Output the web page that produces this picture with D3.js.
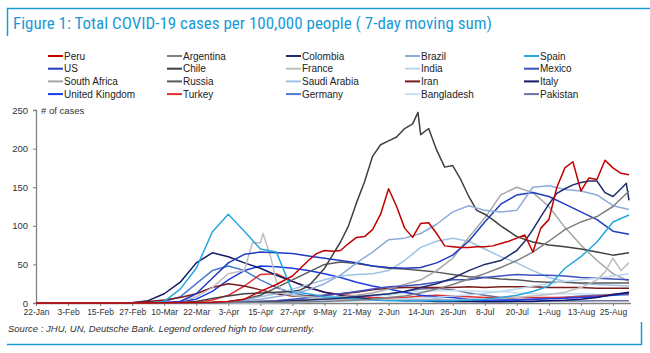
<!DOCTYPE html>
<html>
<head>
<meta charset="utf-8">
<script src="https://cdn.jsdelivr.net/npm/d3@7"></script>
<style>
  html, body { margin: 0; padding: 0; background: #fff; }
  svg { display: block; font-family: "Liberation Sans", Arial, sans-serif; }
</style>
</head>
<body>
<svg id="chart" width="650" height="353"></svg>
<script>
'use strict';

// ─── Data (7-day moving sum of cases per 100k) ───────────────────────────────
// shared 6-day grid
const dates = [
  '2020-01-22', '2020-02-03', '2020-02-15', '2020-02-27', '2020-03-04',
  '2020-03-10', '2020-03-16', '2020-03-22', '2020-03-28', '2020-04-03',
  '2020-04-09', '2020-04-15', '2020-04-21', '2020-04-27', '2020-05-03',
  '2020-05-09', '2020-05-15', '2020-05-21', '2020-05-27', '2020-06-02',
  '2020-06-08', '2020-06-14', '2020-06-20', '2020-06-26', '2020-07-02',
  '2020-07-08', '2020-07-14', '2020-07-20', '2020-07-26', '2020-08-01',
  '2020-08-07', '2020-08-13', '2020-08-19', '2020-08-25', '2020-08-31'
];

// finer dates for the jagged series
const peruDates = [
  '2020-01-22', '2020-02-27', '2020-03-22', '2020-03-28', '2020-04-03', '2020-04-09',
  '2020-04-15', '2020-04-21', '2020-04-27', '2020-04-30', '2020-05-03', '2020-05-06',
  '2020-05-09', '2020-05-12', '2020-05-15', '2020-05-18', '2020-05-21', '2020-05-24',
  '2020-05-27', '2020-05-30', '2020-06-02', '2020-06-05', '2020-06-08', '2020-06-11',
  '2020-06-14', '2020-06-17', '2020-06-20', '2020-06-23', '2020-06-26', '2020-06-29',
  '2020-07-02', '2020-07-05', '2020-07-08', '2020-07-11', '2020-07-14', '2020-07-17',
  '2020-07-20', '2020-07-23', '2020-07-26', '2020-07-29', '2020-08-01', '2020-08-04',
  '2020-08-07', '2020-08-10', '2020-08-13', '2020-08-16', '2020-08-19', '2020-08-22',
  '2020-08-25', '2020-08-28', '2020-08-31'
];
const peru = [0, 0, 0.5, 1, 2, 5,
  15, 24, 35, 45, 55, 64,
  68, 67, 68, 77, 85, 86,
  95, 115, 148, 125, 97, 85,
  103, 104, 90, 74, 73, 72,
  72, 73, 73, 74, 77, 80,
  84, 88, 66, 97, 108, 150,
  175, 183, 145, 162, 160, 185,
  175, 168, 166];

const chileDates = [
  '2020-01-22', '2020-03-16', '2020-03-22', '2020-03-28', '2020-04-03', '2020-04-09',
  '2020-04-15', '2020-04-21', '2020-04-27', '2020-04-30', '2020-05-03', '2020-05-06',
  '2020-05-09', '2020-05-12', '2020-05-15', '2020-05-18', '2020-05-21', '2020-05-24',
  '2020-05-27', '2020-05-30', '2020-06-02', '2020-06-05', '2020-06-08', '2020-06-11',
  '2020-06-13', '2020-06-14', '2020-06-17', '2020-06-20', '2020-06-23', '2020-06-26',
  '2020-06-29', '2020-07-02', '2020-07-05', '2020-07-08', '2020-07-11', '2020-07-14',
  '2020-07-20', '2020-07-26', '2020-08-01', '2020-08-07', '2020-08-13', '2020-08-19',
  '2020-08-25', '2020-08-31'
];
const chile = [0, 0.5, 2, 6, 9, 12,
  13, 14, 15, 17, 22, 33,
  45, 62, 79, 100, 130, 157,
  190, 205, 210, 215, 226, 232,
  247, 218, 226, 198, 176, 178,
  160, 138, 120, 115, 108, 100,
  86, 79, 75, 73, 70, 66,
  62, 65];

const colombiaDates = [
  '2020-01-22', '2020-03-28', '2020-04-03', '2020-04-09', '2020-04-15', '2020-04-21',
  '2020-04-27', '2020-05-03', '2020-05-09', '2020-05-15', '2020-05-21', '2020-05-27',
  '2020-06-02', '2020-06-08', '2020-06-14', '2020-06-20', '2020-06-26', '2020-07-02',
  '2020-07-08', '2020-07-14', '2020-07-20', '2020-07-23', '2020-07-26', '2020-07-29',
  '2020-08-01', '2020-08-04', '2020-08-07', '2020-08-10', '2020-08-13', '2020-08-16',
  '2020-08-19', '2020-08-22', '2020-08-25', '2020-08-28', '2020-08-30', '2020-08-31'
];
const colombia = [0, 0.2, 0.5, 1, 1.5, 2,
  3, 4, 5, 6, 8, 10,
  12, 15, 20, 25, 32, 42,
  50, 55, 68, 80, 95, 112,
  128, 142, 148, 153, 156, 158,
  158, 143, 138, 148, 155, 133];

const franceDates = [
  '2020-01-22', '2020-03-04', '2020-03-10', '2020-03-16', '2020-03-22', '2020-03-28',
  '2020-04-03', '2020-04-09', '2020-04-12', '2020-04-15', '2020-04-16', '2020-04-19',
  '2020-04-21', '2020-04-24', '2020-04-27', '2020-05-03', '2020-05-09', '2020-05-15',
  '2020-05-21', '2020-05-27', '2020-06-02', '2020-06-08', '2020-06-14', '2020-06-20',
  '2020-06-26', '2020-07-02', '2020-07-08', '2020-07-14', '2020-07-20', '2020-07-26',
  '2020-08-01', '2020-08-07', '2020-08-13', '2020-08-19', '2020-08-22', '2020-08-25',
  '2020-08-28', '2020-08-31'
];
const france = [0, 0, 0.5, 2, 8, 20,
  38, 42, 78, 78, 90, 58,
  27, 12, 10, 8, 6, 5,
  4, 4, 4, 4, 4, 4,
  4, 5, 5, 6, 7, 9,
  11, 14, 20, 30, 40, 58,
  42, 52];

const argentina   = [0,0,0,0,0, 0,0,0.1,0.3,0.5, 0.8,1,1,1.2,1.5, 2,3,4,5,7, 9,13,18,24,31, 38,46,55,66,80, 95,105,112,125,145];
const brazil      = [0,0,0,0,0, 0,0,0.2,0.6,1.5, 3,5,8,12,17, 25,36,52,66,82, 84,90,102,118,126, 120,118,120,150,152, 147,145,140,126,121];
const spain       = [0,0,0,0,0.1, 2,18,45,92,115, 93,70,66,15,12, 8,7,5,4,3, 3,3,3,3,4, 5,7,10,15,22, 45,60,79,105,114];
const us          = [0,0,0,0,0, 0.3,2,12,32,52, 63,66,65,64,61, 58,55,52,48,46, 45,46,52,62,80, 105,128,140,143,138, 128,118,108,93,89];
const india       = [0,0,0,0,0, 0,0,0,0,0.1, 0.1,0.2,0.4,0.7,1, 1.5,2,2.6,3.5,4.5, 5.5,6.5,7.5,9,10.5, 12.5,15,18,22,25, 28,30,32,35,38];
const mexico      = [0,0,0,0,0, 0,0,0,0.2,0.6, 1,2,3,5,7, 10,12,15,18,21, 22,24,27,30,30, 33,35,37,36,36, 35,33,32,31,30];
const southAfrica = [0,0,0,0,0, 0,0,0.3,1,1.5, 2,2.5,3,4,5, 6,8,10,13,18, 24,30,42,58,85, 110,140,150,143,125, 98,75,55,38,28];
const russia      = [0,0,0,0,0, 0,0,0.1,0.5,2, 5,10,20,30,40, 50,53,51,48,45, 44,42,40,37,34, 33,31,30,28,27, 27,26,26,26,26];
const saudi       = [0,0,0,0,0, 0,0,0.5,1,2, 4,8,12,18,24, 30,35,37,38,42, 55,72,80,84,80, 70,60,52,42,33, 28,25,24,23,22];
const iran        = [0,0,0,0.3,2, 4,7,12,20,25, 22,17,12,9,9, 10,12,14,17,19, 20,20,20,20,21, 20,21,21,21,20, 20,20,19,19,19];
const italy       = [0,0,0,0.3,3, 12,27,52,65,60, 52,45,36,28,20, 14,10,7,5,4, 3,3,2,2,2, 1.5,1.5,2,2,3, 3.5,5,7,11,14];
const uk          = [0,0,0,0,0, 0.5,2,5,15,30, 42,48,47,45,42, 38,33,27,22,18, 14,10,8,7,5, 4,4,4,5,5.5, 6,7,8,10,13];
const turkey      = [0,0,0,0,0, 0,0.2,1,4,10, 22,37,38,28,20, 14,11,9,7,6, 7,9,10,9,8, 7,7,7,7,7, 7,8,9,11,12];
const germany     = [0,0,0,0.1,0.5, 2,8,25,42,48, 42,30,20,13,9, 7,6,5,4,4, 4,4,5,4,3.5, 3.5,3.5,4,5,6, 7.5,9,10,10,11];
const bangladesh  = [0,0,0,0,0, 0,0,0,0,0, 0.2,0.5,1,2,3, 4,5.5,7,8.5,10, 13,15,16,16,16, 15,15,13,12,12, 12,12,11,11,10];
const pakistan    = [0,0,0,0,0, 0,0,0.2,0.5,1, 1.5,2,2.5,3,3.5, 4,5.5,7,9,11, 15,18,19,17,13, 10,7,5,4,3, 2.5,2.5,3,3,3];

// legend order (high to low currently), row by row
const countries = ['Peru', 'Argentina', 'Colombia', 'Brazil', 'Spain',
                   'US', 'Chile', 'France', 'India', 'Mexico',
                   'South Africa', 'Russia', 'Saudi Arabia', 'Iran', 'Italy',
                   'United Kingdom', 'Turkey', 'Germany', 'Bangladesh', 'Pakistan'];
const seriesValues = [peru, argentina, colombia, brazil, spain,
                      us, chile, france, india, mexico,
                      southAfrica, russia, saudi, iran, italy,
                      uk, turkey, germany, bangladesh, pakistan];
const seriesDates = { Peru: peruDates, Chile: chileDates, Colombia: colombiaDates, France: franceDates };
const colors = ['#c00000', '#808080', '#1f2d6e', '#8eaadb', '#27a6df',
                '#1f3cbf', '#404040', '#bfbfbf', '#bdd7ee', '#3f51c0',
                '#a6a6a6', '#595959', '#9dc3e6', '#7b1c1c', '#0d1a66',
                '#1c3ce6', '#e03030', '#4a7bd0', '#c5e0f4', '#6a72a0'];

const xTickLabels = ['22-Jan', '3-Feb', '15-Feb', '27-Feb', '10-Mar', '22-Mar', '3-Apr', '15-Apr',
                     '27-Apr', '9-May', '21-May', '2-Jun', '14-Jun', '26-Jun', '8-Jul', '20-Jul',
                     '1-Aug', '13-Aug', '25-Aug'];
const yTicks = [0, 50, 100, 150, 200, 250];

// ─── Layout ──────────────────────────────────────────────────────────────────
const BLUE = '#1a9ad6';
const svg = d3.select('#chart');
const parse = d3.timeParse('%Y-%m-%d');
const parseTick = d3.timeParse('%d-%b-%Y');

const x = d3.scaleTime()
  .domain([parse('2020-01-22'), parse('2020-08-31')])
  .range([36, 629]);
const y = d3.scaleLinear().domain([0, 250]).range([303, 110]);

// frame
svg.append('path')
  .attr('d', 'M7.5,36 V8.5 H650')
  .attr('fill', 'none').attr('stroke', BLUE).attr('stroke-width', 1.5);
svg.append('path')
  .attr('d', 'M7,344.5 H641.5 V322')
  .attr('fill', 'none').attr('stroke', BLUE).attr('stroke-width', 1.5);

svg.append('text')
  .attr('x', 13).attr('y', 29)
  .attr('font-family', '"Liberation Sans Narrow", "Arial Narrow", "Roboto Condensed", sans-serif')
  .attr('font-size', 17)
  .attr('fill', BLUE)
  .text('Figure 1: Total COVID-19 cases per 100,000 people ( 7-day moving sum)');

// legend
const legend = svg.append('g');
countries.forEach((name, i) => {
  const col = i % 5, row = Math.floor(i / 5);
  const lx = 48 + col * 119, ly = 56 + row * 12.7;
  legend.append('line')
    .attr('x1', lx).attr('x2', lx + 15).attr('y1', ly).attr('y2', ly)
    .attr('stroke', colors[i]).attr('stroke-width', 2);
  legend.append('text')
    .attr('x', lx + 16).attr('y', ly + 3.6)
    .attr('font-size', 10).attr('fill', '#222')
    .text(name);
});

// axes
const xAxis = d3.axisBottom(x)
  .tickValues(xTickLabels.map(t => parseTick(t + '-2020')))
  .tickFormat(d3.timeFormat('%-d-%b'))
  .tickSize(3).tickPadding(3);
const gx = svg.append('g').attr('transform', 'translate(0,303)').call(xAxis);
gx.select('.domain').attr('d', 'M36,0.5H631').attr('stroke', '#808080').attr('stroke-width', 1.3);
gx.selectAll('.tick line').attr('stroke', '#808080');
gx.selectAll('.tick text').attr('font-size', 8.5).attr('fill', '#333')
  .attr('font-family', '"Liberation Sans", Arial, sans-serif');

const yAxis = d3.axisLeft(y).tickValues(yTicks).tickSize(3).tickPadding(5);
const gy = svg.append('g').attr('transform', 'translate(36,0)').call(yAxis);
gy.select('.domain').attr('stroke', '#808080').attr('stroke-width', 1.3);
gy.selectAll('.tick line').attr('stroke', '#808080');
gy.selectAll('.tick text').attr('font-size', 9.5).attr('fill', '#333')
  .attr('font-family', '"Liberation Sans", Arial, sans-serif');

svg.append('text')
  .attr('x', 41).attr('y', 113.5)
  .attr('font-size', 9.5).attr('fill', '#333')
  .text('# of cases');

// lines, drawn from the bottom of the legend upwards so Peru ends on top
const gLines = svg.append('g');
for (let i = seriesValues.length - 1; i >= 0; i--) {
  const ds = (seriesDates[countries[i]] || dates).map(parse);
  const line = d3.line()
    .x((d, j) => x(ds[j]))
    .y(d => y(d));
  gLines.append('path')
    .datum(seriesValues[i])
    .attr('d', line)
    .attr('fill', 'none')
    .attr('stroke', colors[i])
    .attr('stroke-width', 1.5)
    .attr('stroke-linejoin', 'round');
}

svg.append('text')
  .attr('x', 8).attr('y', 332)
  .attr('font-size', 9.5).attr('font-style', 'italic').attr('fill', '#333')
  .text('Source : JHU, UN, Deutsche Bank. Legend ordered high to low currently.');
</script>
</body>
</html>
